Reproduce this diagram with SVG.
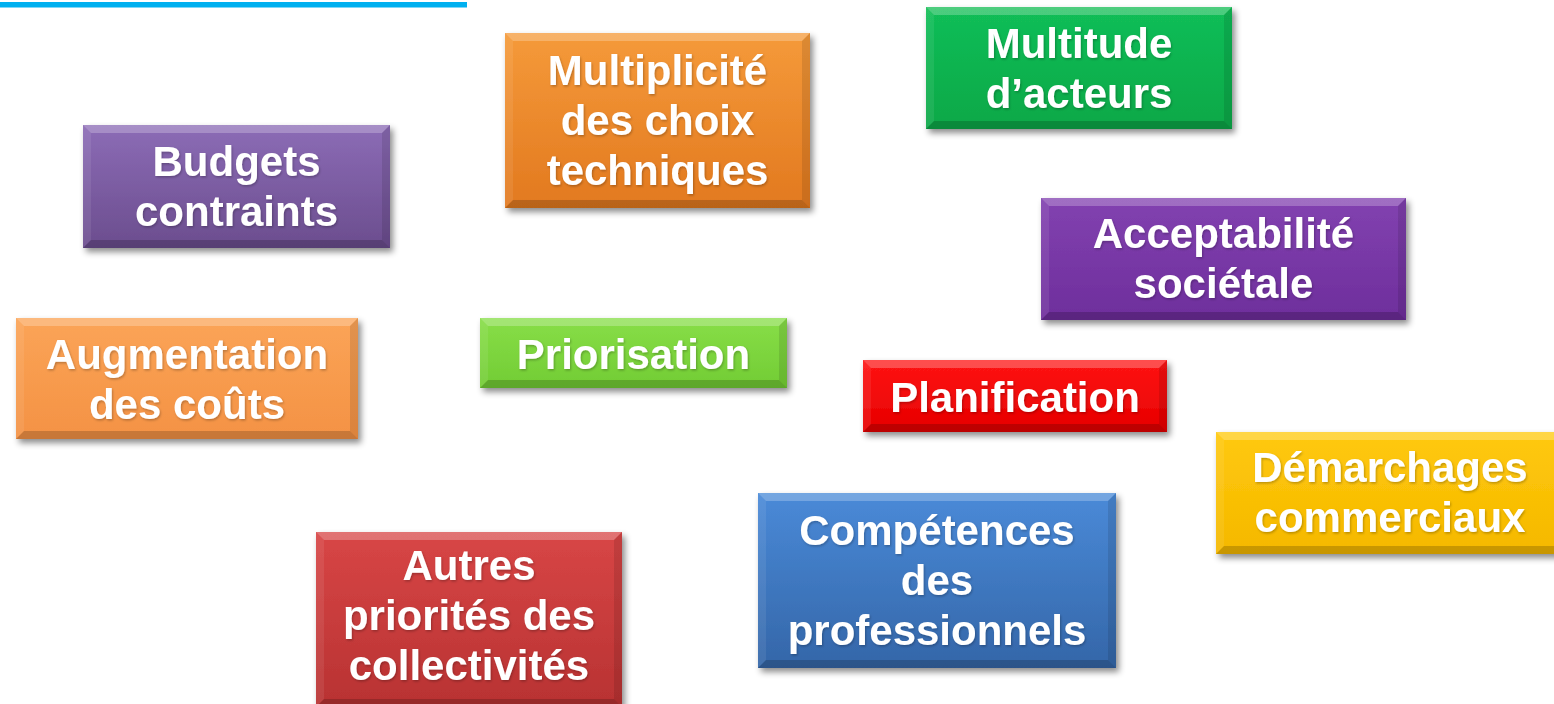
<svg xmlns="http://www.w3.org/2000/svg" width="1554" height="704" viewBox="0 0 1554 704">
<defs>
<style>
.lbl{font-family:"Liberation Sans",Arial,sans-serif;font-weight:bold;font-size:42px;fill:#fff;text-anchor:middle}
.bt{fill:#fff;fill-opacity:.24}
.bl{fill:#fff;fill-opacity:.08}
.br{fill:#000;fill-opacity:.10}
.bb{fill:#000;fill-opacity:.18}
.box{filter:url(#sh)}
</style>
<filter id="sh" x="-10%" y="-10%" width="125%" height="130%">
<feDropShadow dx="3" dy="4" stdDeviation="3" flood-color="#000" flood-opacity="0.45"/>
</filter>
<filter id="ts" x="-5%" y="-10%" width="110%" height="130%">
<feDropShadow dx="1" dy="1.5" stdDeviation="1" flood-color="#000" flood-opacity="0.25"/>
</filter>
<linearGradient id="g1" x1="0" y1="0" x2="0" y2="1"><stop offset="0" stop-color="#8C6CB6"/><stop offset="1" stop-color="#6B4D8E"/></linearGradient>
<linearGradient id="g2" x1="0" y1="0" x2="0" y2="1"><stop offset="0" stop-color="#F59A3A"/><stop offset="1" stop-color="#E2791F"/></linearGradient>
<linearGradient id="g3" x1="0" y1="0" x2="0" y2="1"><stop offset="0" stop-color="#12BE57"/><stop offset="1" stop-color="#0AA848"/></linearGradient>
<linearGradient id="g4" x1="0" y1="0" x2="0" y2="1"><stop offset="0" stop-color="#8242B0"/><stop offset="1" stop-color="#6E2E9C"/></linearGradient>
<linearGradient id="g5" x1="0" y1="0" x2="0" y2="1"><stop offset="0" stop-color="#FBA457"/><stop offset="1" stop-color="#F49244"/></linearGradient>
<linearGradient id="g6" x1="0" y1="0" x2="0" y2="1"><stop offset="0" stop-color="#88DE48"/><stop offset="1" stop-color="#72CC34"/></linearGradient>
<linearGradient id="g7" x1="0" y1="0" x2="0" y2="1"><stop offset="0" stop-color="#FF1414"/><stop offset="1" stop-color="#E60000"/></linearGradient>
<linearGradient id="g8" x1="0" y1="0" x2="0" y2="1"><stop offset="0" stop-color="#FFC90C"/><stop offset="1" stop-color="#F5B800"/></linearGradient>
<linearGradient id="g9" x1="0" y1="0" x2="0" y2="1"><stop offset="0" stop-color="#4A8AD8"/><stop offset="1" stop-color="#3466A8"/></linearGradient>
<linearGradient id="g10" x1="0" y1="0" x2="0" y2="1"><stop offset="0" stop-color="#D84646"/><stop offset="1" stop-color="#B83232"/></linearGradient>
</defs>
<rect width="1554" height="704" fill="#fff"/>
<rect id="topbar" x="0" y="2" width="467" height="5.5" fill="#00B0F0"/>

<g id="n1" transform="translate(83,125)">
<rect class="box" width="307" height="123" fill="url(#g1)"/>
<polygon class="bt" points="0,0 307,0 299,8 8,8"/><polygon class="bl" points="0,0 8,8 8,115 0,123"/><polygon class="br" points="307,0 307,123 299,115 299,8"/><polygon class="bb" points="0,123 8,115 299,115 307,123"/>
<text class="lbl" filter="url(#ts)" x="153.5" y="50.5">Budgets</text><text class="lbl" filter="url(#ts)" x="153.5" y="100.5">contraints</text>
</g>

<g id="n2" transform="translate(505,33)">
<rect class="box" width="305" height="175" fill="url(#g2)"/>
<polygon class="bt" points="0,0 305,0 297,8 8,8"/><polygon class="bl" points="0,0 8,8 8,167 0,175"/><polygon class="br" points="305,0 305,175 297,167 297,8"/><polygon class="bb" points="0,175 8,167 297,167 305,175"/>
<text class="lbl" filter="url(#ts)" x="152.5" y="51.5">Multiplicité</text><text class="lbl" filter="url(#ts)" x="152.5" y="101.5">des choix</text><text class="lbl" filter="url(#ts)" x="152.5" y="151.5">techniques</text>
</g>

<g id="n3" transform="translate(926,7)">
<rect class="box" width="306" height="122" fill="url(#g3)"/>
<polygon class="bt" points="0,0 306,0 298,8 8,8"/><polygon class="bl" points="0,0 8,8 8,114 0,122"/><polygon class="br" points="306,0 306,122 298,114 298,8"/><polygon class="bb" points="0,122 8,114 298,114 306,122"/>
<text class="lbl" filter="url(#ts)" x="153" y="51">Multitude</text><text class="lbl" filter="url(#ts)" x="153" y="101">d’acteurs</text>
</g>

<g id="n4" transform="translate(1041,198)">
<rect class="box" width="365" height="122" fill="url(#g4)"/>
<polygon class="bt" points="0,0 365,0 357,8 8,8"/><polygon class="bl" points="0,0 8,8 8,114 0,122"/><polygon class="br" points="365,0 365,122 357,114 357,8"/><polygon class="bb" points="0,122 8,114 357,114 365,122"/>
<text class="lbl" filter="url(#ts)" x="182.5" y="50">Acceptabilité</text><text class="lbl" filter="url(#ts)" x="182.5" y="100">sociétale</text>
</g>

<g id="n5" transform="translate(16,318)">
<rect class="box" width="342" height="121" fill="url(#g5)"/>
<polygon class="bt" points="0,0 342,0 334,8 8,8"/><polygon class="bl" points="0,0 8,8 8,113 0,121"/><polygon class="br" points="342,0 342,121 334,113 334,8"/><polygon class="bb" points="0,121 8,113 334,113 342,121"/>
<text class="lbl" filter="url(#ts)" x="171" y="51">Augmentation</text><text class="lbl" filter="url(#ts)" x="171" y="101">des coûts</text>
</g>

<g id="n6" transform="translate(480,318)">
<rect class="box" width="307" height="70" fill="url(#g6)"/>
<polygon class="bt" points="0,0 307,0 299,8 8,8"/><polygon class="bl" points="0,0 8,8 8,62 0,70"/><polygon class="br" points="307,0 307,70 299,62 299,8"/><polygon class="bb" points="0,70 8,62 299,62 307,70"/>
<text class="lbl" filter="url(#ts)" x="153.5" y="51">Priorisation</text>
</g>

<g id="n7" transform="translate(863,360)">
<rect class="box" width="304" height="72" fill="url(#g7)"/>
<polygon class="bt" points="0,0 304,0 296,8 8,8"/><polygon class="bl" points="0,0 8,8 8,64 0,72"/><polygon class="br" points="304,0 304,72 296,64 296,8"/><polygon class="bb" points="0,72 8,64 296,64 304,72"/>
<text class="lbl" filter="url(#ts)" x="152" y="52">Planification</text>
</g>

<g id="n8" transform="translate(1216,432)">
<rect class="box" width="348" height="122" fill="url(#g8)"/>
<polygon class="bt" points="0,0 348,0 340,8 8,8"/><polygon class="bl" points="0,0 8,8 8,114 0,122"/><polygon class="br" points="348,0 348,122 340,114 340,8"/><polygon class="bb" points="0,122 8,114 340,114 348,122"/>
<text class="lbl" filter="url(#ts)" x="174" y="50">Démarchages</text><text class="lbl" filter="url(#ts)" x="174" y="100">commerciaux</text>
</g>

<g id="n9" transform="translate(758,493)">
<rect class="box" width="358" height="175" fill="url(#g9)"/>
<polygon class="bt" points="0,0 358,0 350,8 8,8"/><polygon class="bl" points="0,0 8,8 8,167 0,175"/><polygon class="br" points="358,0 358,175 350,167 350,8"/><polygon class="bb" points="0,175 8,167 350,167 358,175"/>
<text class="lbl" filter="url(#ts)" x="179" y="52">Compétences</text><text class="lbl" filter="url(#ts)" x="179" y="102">des</text><text class="lbl" filter="url(#ts)" x="179" y="152">professionnels</text>
</g>

<g id="n10" transform="translate(316,532)">
<rect class="box" width="306" height="175" fill="url(#g10)"/>
<polygon class="bt" points="0,0 306,0 298,8 8,8"/><polygon class="bl" points="0,0 8,8 8,167 0,175"/><polygon class="br" points="306,0 306,175 298,167 298,8"/><polygon class="bb" points="0,175 8,167 298,167 306,175"/>
<text class="lbl" filter="url(#ts)" x="153" y="48">Autres</text><text class="lbl" filter="url(#ts)" x="153" y="98">priorités des</text><text class="lbl" filter="url(#ts)" x="153" y="148">collectivités</text>
</g>

<g id="connectors"></g>
</svg>
